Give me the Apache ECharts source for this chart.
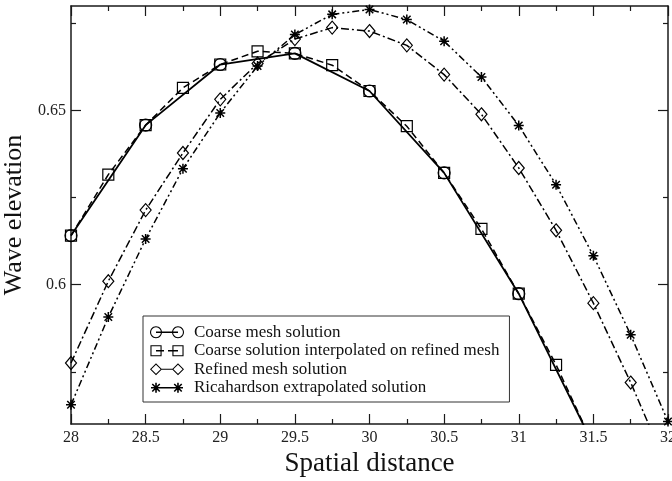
<!DOCTYPE html>
<html>
<head>
<meta charset="utf-8">
<script src="https://cdn.jsdelivr.net/npm/echarts@6/dist/echarts.min.js"></script>
<style>
  html, body { margin: 0; padding: 0; background: #fff; }
  #chart { width: 672px; height: 481px; }
</style>
</head>
<body>
<div id="chart"></div>
<script>
// Sample positions along the free surface
const xFine = [28, 28.25, 28.5, 28.75, 29, 29.25, 29.5, 29.75, 30, 30.25, 30.5, 30.75, 31, 31.25, 31.5, 31.75, 32];
const xCoarse = [28, 28.5, 29, 29.5, 30, 30.5, 31, 31.5];

// Wave elevation for each solution
const coarseMesh = [0.6141, 0.6458, 0.6632, 0.6664, 0.6556, 0.6321, 0.5974, 0.5540];
const coarseInterp = [0.6141, 0.6316, 0.6458, 0.6565, 0.6632, 0.6670, 0.6664, 0.6630, 0.6556, 0.6455, 0.6321, 0.6160, 0.5974, 0.5770, 0.5540];
const refined = [0.5775, 0.6010, 0.6214, 0.6378, 0.6532, 0.6635, 0.6705, 0.6738, 0.6728, 0.6687, 0.6603, 0.6489, 0.6335, 0.6156, 0.5947, 0.5719, 0.5470];
const richardson = [0.5655, 0.5907, 0.6131, 0.6333, 0.6493, 0.6628, 0.6718, 0.6776, 0.6790, 0.6761, 0.6699, 0.6596, 0.6457, 0.6287, 0.6083, 0.5856, 0.5607];

const seriesNames = [
  'Coarse mesh solution',
  'Coarse solution interpolated on refined mesh',
  'Refined mesh solution',
  'Ricahardson extrapolated solution'
];

// Axis ticks
const yMajor = [0.6, 0.65];
const yMinor = [0.575, 0.625, 0.675];

const FONT = '"Liberation Serif", "DejaVu Serif", serif';
const INK = '#000';

function pairs(xs, ys) { return ys.map((y, i) => [xs[i], y]); }

// ---- path helpers for markers / legend glyphs ----
function poly(pts, reverse) {
  const p = reverse ? pts.slice().reverse() : pts;
  return 'M' + p.map(q => q[0].toFixed(2) + ' ' + q[1].toFixed(2)).join(' L') + ' Z ';
}
function circlePts(cx, cy, r) {
  const out = [];
  for (let i = 0; i < 28; i++) {
    const a = i / 28 * Math.PI * 2;
    out.push([cx + r * Math.cos(a), cy + r * Math.sin(a)]);
  }
  return out;
}
function ring(cx, cy, r, w) { return poly(circlePts(cx, cy, r)) + poly(circlePts(cx, cy, r - w), true); }
function squareRing(cx, cy, h, w) {
  const o = [[cx - h, cy - h], [cx + h, cy - h], [cx + h, cy + h], [cx - h, cy + h]];
  const i = [[cx - h + w, cy - h + w], [cx + h - w, cy - h + w], [cx + h - w, cy + h - w], [cx - h + w, cy + h - w]];
  return poly(o) + poly(i, true);
}
function diamondRing(cx, cy, h, w) {
  const o = [[cx, cy - h], [cx + h, cy], [cx, cy + h], [cx - h, cy]];
  const k = h - w * 1.41;
  const i = [[cx, cy - k], [cx + k, cy], [cx, cy + k], [cx - k, cy]];
  return poly(o) + poly(i, true);
}
function bar(x0, x1, cy, t) { return poly([[x0, cy - t], [x1, cy - t], [x1, cy + t], [x0, cy + t]]); }
function asterisk(cx, cy, r, t) {
  const d = r * 0.75, e = t * 0.7;
  return bar(cx - r, cx + r, cy, t) +
    poly([[cx - t, cy - r], [cx + t, cy - r], [cx + t, cy + r], [cx - t, cy + r]]) +
    poly([[cx - d + e, cy - d - e], [cx + d + e, cy + d - e], [cx + d - e, cy + d + e], [cx - d - e, cy - d + e]]) +
    poly([[cx + d - e, cy - d - e], [cx + d + e, cy - d + e], [cx - d + e, cy + d + e], [cx - d - e, cy + d - e]]);
}

const starSymbol = 'path://' + asterisk(5, 5, 5, 0.75);

// Legend glyphs: marker, connecting stroke, marker (34 x 12 box)
const L = 6, R = 28, C = 6;
const legendIcons = [
  'path://' + ring(L, C, 6, 1.1) + ring(R, C, 6, 1.1) + bar(L, R, C, 0.7),
  'path://' + squareRing(L, C, 5.6, 1.1) + squareRing(R, C, 5.6, 1.1) + bar(L, 14, C, 0.7) + bar(18, R, C, 0.7) + bar(0, 0.01, 0, 0.01) + bar(33.99, 34, 12, 0.01),
  'path://' + diamondRing(L, C, 6, 1.0) + diamondRing(R, C, 6, 1.0) + bar(L + 5, R - 5, C, 0.6),
  'path://' + asterisk(L, C, 5, 0.8) + asterisk(R, C, 5, 0.8) + bar(L + 4, R - 4, C, 0.7) + bar(0, 0.01, 0, 0.01) + bar(33.99, 34, 12, 0.01)
];

const chart = echarts.init(document.getElementById('chart'), null, { renderer: 'canvas' });

const axisLine = { show: true, onZero: false, lineStyle: { color: '#1a1a1a', width: 1.5 } };
const tickMajor = { show: true, inside: true, length: 10, lineStyle: { color: '#1a1a1a', width: 1.2 } };
const tickMinor = { show: true, length: 5, lineStyle: { color: '#1a1a1a', width: 1.2 } };
const labelStyle = { fontFamily: FONT, fontSize: 16, color: '#222' };

function xAx(pos, withLabels) {
  return {
    type: 'value', position: pos, min: 28, max: 32, interval: 0.5,
    axisLine: axisLine,
    axisTick: tickMajor,
    minorTick: Object.assign({ splitNumber: 2 }, tickMinor),
    axisLabel: withLabels ? Object.assign({ margin: 6, hideOverlap: false }, labelStyle) : { show: false },
    splitLine: { show: false }, minorSplitLine: { show: false },
    name: withLabels ? 'Spatial distance' : '',
    nameLocation: 'middle', nameGap: 22,
    nameTextStyle: { fontFamily: FONT, fontSize: 27, color: '#111' }
  };
}
function yAx(pos, values, len, withLine, withLabels) {
  return {
    type: 'value', position: pos, min: 0.56, max: 0.68,
    axisLine: withLine ? axisLine : { show: false },
    axisTick: { show: true, inside: true, length: len, customValues: values, lineStyle: { color: '#1a1a1a', width: 1.2 } },
    axisLabel: withLabels ? Object.assign({ margin: 5, customValues: values }, labelStyle) : { show: false },
    splitLine: { show: false },
    name: withLabels ? 'Wave elevation' : '',
    nameLocation: 'middle', nameGap: 35,
    nameTextStyle: { fontFamily: FONT, fontSize: 26, color: '#111' }
  };
}

const base = { type: 'line', xAxisIndex: 0, yAxisIndex: 0, clip: true, animation: false };
const hollow = { color: 'rgba(0,0,0,0)', borderColor: INK, borderWidth: 1.2 };

chart.setOption({
  animation: false,
  backgroundColor: '#fff',
  grid: { left: 71, right: 4, top: 6, bottom: 57, containLabel: false, outerBoundsMode: 'none' },
  xAxis: [xAx('bottom', true), xAx('top', false)],
  yAxis: [
    yAx('left', yMajor, 10, true, true),
    yAx('left', yMinor, 5, false, false),
    yAx('right', yMajor, 10, true, false),
    yAx('right', yMinor, 5, false, false)
  ],
  legend: {
    orient: 'vertical', left: 143, top: 316,
    borderColor: '#333', borderWidth: 1, padding: [7, 10, 5, 7],
    itemGap: 0, itemWidth: 34, itemHeight: 12,
    selectedMode: false,
    textStyle: { fontFamily: FONT, fontSize: 17, color: '#111', lineHeight: 18.5, padding: [0, 0, 0, 5] },
    data: seriesNames.map((n, i) => ({ name: n, icon: legendIcons[i], itemStyle: { color: INK, borderWidth: 0 } }))
  },
  series: [
    Object.assign({}, base, {
      name: seriesNames[0], data: pairs(xCoarse, coarseMesh),
      symbol: 'circle', symbolSize: 12, itemStyle: hollow,
      lineStyle: { color: INK, width: 1.8, type: 'solid' }
    }),
    Object.assign({}, base, {
      name: seriesNames[1], data: pairs(xFine, coarseInterp),
      symbol: 'rect', symbolSize: 11, itemStyle: hollow,
      lineStyle: { color: INK, width: 1.5, type: [7, 4] }
    }),
    Object.assign({}, base, {
      name: seriesNames[2], data: pairs(xFine, refined),
      symbol: 'diamond', symbolSize: [11, 13], itemStyle: hollow,
      lineStyle: { color: INK, width: 1.5, type: [8, 3, 2, 3] }
    }),
    Object.assign({}, base, {
      name: seriesNames[3], data: pairs(xFine, richardson),
      symbol: starSymbol, symbolSize: 10, itemStyle: { color: INK, borderWidth: 0 },
      lineStyle: { color: INK, width: 1.5, type: [7, 3, 2, 3, 2, 3] }
    })
  ]
});
</script>
</body>
</html>
